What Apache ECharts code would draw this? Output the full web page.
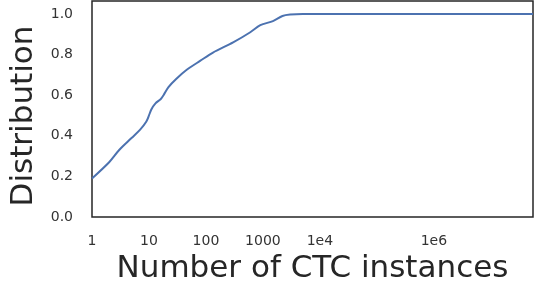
<!DOCTYPE html>
<html>
<head>
<meta charset="utf-8">
<script src="https://cdn.jsdelivr.net/npm/echarts@6/dist/echarts.min.js"></script>
<style>
html, body { margin: 0; padding: 0; background: #fff; }
#main { width: 535px; height: 289px; }
</style>
</head>
<body>
<div id="main"></div>
<script>
// CDF of CTC instance counts
var counts = [1, 2, 3, 5, 7, 9, 10, 11, 13, 16, 18, 22, 30, 46, 80, 133, 300, 600, 900, 1500, 2200, 3000, 5000, 5.5e7];
var cdf = [0.19, 0.27, 0.33, 0.39, 0.43, 0.47, 0.50, 0.53, 0.56, 0.58, 0.60, 0.64, 0.68, 0.725, 0.77, 0.81, 0.86, 0.91, 0.945, 0.965, 0.99, 0.997, 1.0, 1.0];
var tickLabels = {0: '1', 1: '10', 2: '100', 3: '1000', 4: '1e4', 6: '1e6'};
var yTicks = ['0.0', '0.2', '0.4', '0.6', '0.8', '1.0'];

var chartDom = document.getElementById('main');
var myChart = echarts.init(chartDom);
var option;
option = {
	backgroundColor: '#fff',
	animation: false,
	grid: {
		left: 92,
		right: 2,
		top: 1,
		bottom: 71,
		show: true,
		borderColor: '#262626',
		borderWidth: 1.5,
		backgroundColor: '#fff'
	},
	xAxis: {
		type: 'log',
		logBase: 10,
		min: 1,
		max: 5.5e7,
		splitNumber: 8,
		name: 'Number of CTC instances',
		nameLocation: 'middle',
		nameGap: 36,
		nameTextStyle: { fontFamily: 'DejaVu Sans', fontSize: 31, color: '#262626' },
		axisLine: { show: false },
		axisTick: { show: false },
		splitLine: { show: false },
		axisLabel: {
			margin: 17,
			fontFamily: 'DejaVu Sans',
			fontSize: 14,
			color: '#333',
			showMaxLabel: false,
			formatter: function (v) {
				var k = Math.round(Math.log10(v));
				return tickLabels[k] || '';
			}
		}
	},
	yAxis: {
		type: 'value',
		min: 0,
		max: 1.064,
		interval: 0.2,
		name: 'Distribution',
		nameLocation: 'middle',
		nameGap: 44,
		nameTextStyle: { fontFamily: 'DejaVu Sans', fontSize: 31, color: '#262626', padding: [0, 14, 0, 0] },
		axisLine: { show: false },
		axisTick: { show: false },
		splitLine: { show: false },
		axisLabel: {
			margin: 19,
			fontFamily: 'DejaVu Sans',
			fontSize: 14,
			color: '#333',
			showMaxLabel: false,
			formatter: function (v) {
				return yTicks[Math.round(v / 0.2)] || '';
			}
		}
	},
	series: [{
		type: 'line',
		data: counts.map(function (c, i) { return [c, cdf[i]]; }),
		showSymbol: false,
		smooth: 0.3,
		lineStyle: { color: '#4c72b0', width: 2 }
	}]
};
option && myChart.setOption(option);
</script>
</body>
</html>
